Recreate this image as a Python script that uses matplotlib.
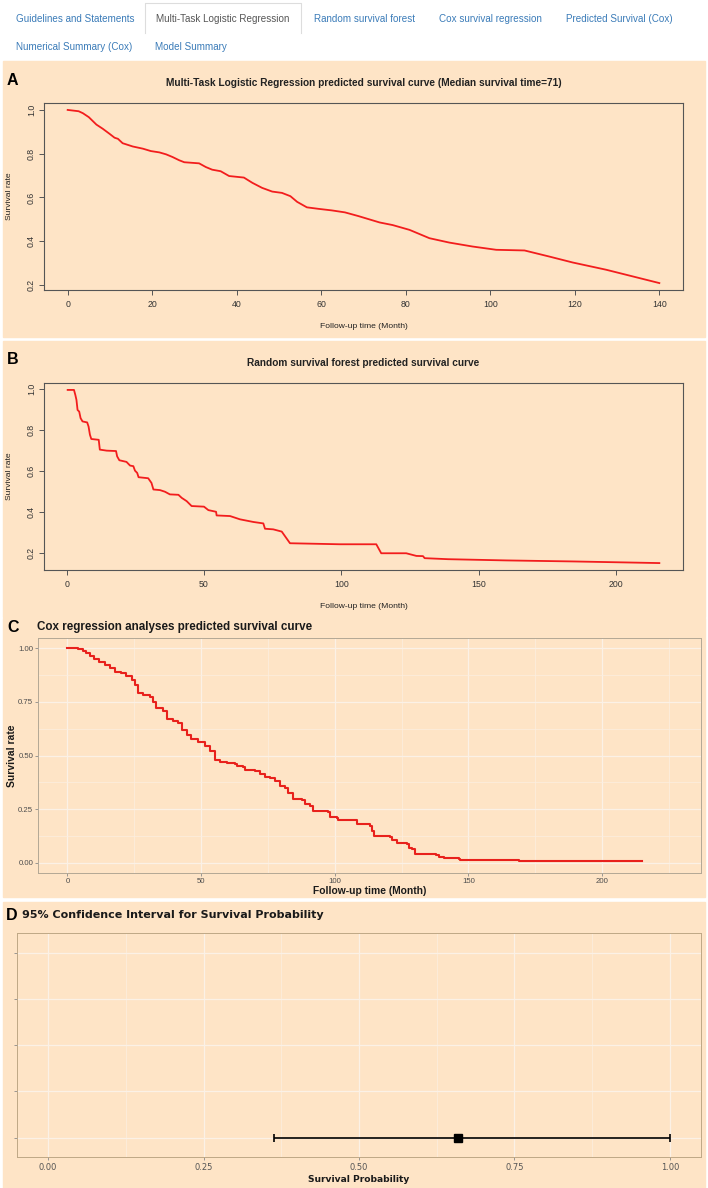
import numpy as np
import matplotlib.pyplot as plt
from matplotlib.patches import Rectangle
from matplotlib.lines import Line2D
from matplotlib.ticker import MultipleLocator

W, H = 708, 1188
BISQUE = '#fee4c6'
RED = '#f21d1d'

# navigation tabs of the web app
tabs_row1 = ["Guidelines and Statements", "Multi-Task Logistic Regression",
             "Random survival forest", "Cox survival regression",
             "Predicted Survival (Cox)"]
tabs_row2 = ["Numerical Summary (Cox)", "Model Summary"]
active_tab = "Multi-Task Logistic Regression"

# A: multi-task logistic regression curve
mtlr_time = [0, 2.6, 3.6, 5.0, 6.8, 8.3, 9.9, 11.1, 11.9, 13.0, 15.4, 17.8, 19.7,
             21.7, 23.3, 24.8, 26.4, 27.6, 31.1, 32.7, 34.2, 36.2, 38.2, 41.7,
             43.7, 46.0, 48.4, 50.7, 52.7, 54.3, 56.6, 59.4, 62.5, 65.6, 68.8,
             73.8, 76.9, 80.9, 85.6, 90.3, 95.8, 101.4, 108.1, 114.0, 119.5,
             127.4, 140.0]
mtlr_surv = [1.0, 0.994, 0.985, 0.967, 0.933, 0.914, 0.891, 0.873, 0.868, 0.848,
             0.833, 0.823, 0.812, 0.806, 0.797, 0.785, 0.770, 0.761, 0.756, 0.739,
             0.727, 0.720, 0.698, 0.691, 0.667, 0.644, 0.627, 0.621, 0.606, 0.580,
             0.555, 0.548, 0.541, 0.532, 0.515, 0.486, 0.474, 0.452, 0.414, 0.394,
             0.376, 0.361, 0.358, 0.330, 0.303, 0.270, 0.209]

# B: random survival forest curve
rsf_time = [0.4, 2.7, 3.2, 3.6, 4.0, 4.6, 5.1, 5.8, 7.5, 8.0, 8.5, 9.0, 11.7, 12.1,
            14.6, 18.0, 18.4, 19.2, 21.8, 23.1, 24.3, 24.9, 25.7, 26.2, 29.7, 30.9,
            31.6, 34.0, 35.8, 37.6, 40.7, 41.9, 43.7, 45.5, 50.0, 51.6, 54.4, 54.6,
            59.5, 63.1, 68.0, 71.6, 72.2, 75.2, 78.3, 81.3, 99.4, 112.7, 114.5,
            123.6, 127.3, 129.7, 130.3, 138.8, 160.0, 184.2, 215.7]
rsf_surv = [0.997, 0.997, 0.972, 0.948, 0.899, 0.891, 0.859, 0.843, 0.838, 0.818,
            0.778, 0.757, 0.753, 0.705, 0.700, 0.698, 0.672, 0.653, 0.645, 0.627,
            0.624, 0.602, 0.591, 0.570, 0.565, 0.542, 0.510, 0.507, 0.499, 0.486,
            0.484, 0.469, 0.453, 0.429, 0.426, 0.409, 0.401, 0.383, 0.380, 0.364,
            0.351, 0.344, 0.318, 0.315, 0.304, 0.247, 0.242, 0.242, 0.198, 0.198,
            0.185, 0.184, 0.174, 0.169, 0.163, 0.158, 0.150]

# C: Cox model step curve (time of drop, survival after drop)
cox_time = [0, 4.0, 6.0, 7.0, 8.5, 10.0, 12.0, 14.0, 16.0, 17.7, 20.2, 22.0, 24.0,
            25.2, 26.5, 28.3, 30.8, 32.0, 33.3, 35.8, 37.1, 39.6, 41.4, 42.7, 44.6,
            46.4, 48.9, 51.4, 53.3, 55.2, 57.1, 59.6, 62.7, 63.3, 65.8, 66.4, 70.2,
            72.0, 73.9, 75.8, 77.7, 79.5, 81.4, 82.6, 84.5, 87.6, 88.9, 90.8, 92.0,
            97.6, 98.3, 100.7, 101.4, 108.2, 113.2, 113.9, 114.5, 120.7, 121.4,
            123.3, 127.0, 127.6, 128.9, 130.2, 137.7, 138.9, 140.7, 146.4, 147.0,
            168.9, 215.0]
cox_surv = [1.0, 0.995, 0.985, 0.977, 0.964, 0.949, 0.933, 0.919, 0.907, 0.891,
            0.884, 0.868, 0.853, 0.829, 0.791, 0.780, 0.771, 0.749, 0.721, 0.705,
            0.670, 0.659, 0.651, 0.620, 0.597, 0.577, 0.563, 0.546, 0.519, 0.478,
            0.468, 0.464, 0.462, 0.450, 0.446, 0.431, 0.426, 0.414, 0.400, 0.395,
            0.380, 0.360, 0.349, 0.326, 0.298, 0.293, 0.274, 0.264, 0.240, 0.236,
            0.216, 0.209, 0.200, 0.183, 0.171, 0.147, 0.124, 0.121, 0.108, 0.093,
            0.090, 0.070, 0.065, 0.042, 0.039, 0.028, 0.022, 0.019, 0.012, 0.008,
            0.008]

# D: 95% CI for the survival probability
ci_level = [1]
ci_est = [0.659]
ci_low = [0.363]
ci_high = [1.0]
ci_levels_shown = [1, 2, 3, 4, 5]


def rect(x0, y0, x1, y1):
    # pixel box -> figure fraction [left, bottom, width, height]
    return [x0 / W, 1 - y1 / H, (x1 - x0) / W, (y1 - y0) / H]


def ftext(x, y, s, **kw):
    fig.text(x / W, 1 - y / H, s, **kw)


def r_lim(v):
    # base R default axis extension (4%)
    lo, hi = min(v), max(v)
    d = (hi - lo) * 0.04
    return lo - d, hi + d


def style_base_r(ax, xt, yt):
    ax.set_facecolor('none')
    for s in ax.spines.values():
        s.set_color('#555555')
        s.set_linewidth(0.8)
    ax.set_xticks(xt)
    ax.set_yticks(yt)
    ax.set_xticklabels([str(v) for v in xt])
    ax.set_yticklabels([f"{v:.1f}" for v in yt])
    ax.tick_params(direction='out', length=3.6, width=0.7, color='#555555',
                   labelsize=6.3, labelcolor='#333333')
    ax.tick_params(axis='x', pad=3.3)
    ax.tick_params(axis='y', pad=2.3, labelrotation=90)
    plt.setp(ax.get_yticklabels(), va='center', family='Liberation Sans')
    plt.setp(ax.get_xticklabels(), family='Liberation Sans')


fig = plt.figure(figsize=(W / 100, H / 100), dpi=100)
fig.patch.set_facecolor('white')

# panel backgrounds
for y0, y1 in [(61, 336.5), (341.5, 616.5), (618, 897), (902, 1188)]:
    fig.add_artist(Rectangle((3 / W, 1 - y1 / H), 702 / W, (y1 - y0) / H,
                             transform=fig.transFigure, color=BISQUE, zorder=0))

# tabs
tab_x1 = [15.8, 156, 314, 439, 566]
tab_x2 = [16, 155]
for lbl, x in zip(tabs_row1, tab_x1):
    ftext(x, 18.5, lbl, fontsize=7.1, family='Liberation Sans', va='center',
          color='#555555' if lbl == active_tab else '#3a7bb8')
for lbl, x in zip(tabs_row2, tab_x2):
    ftext(x, 47, lbl, fontsize=7.1, family='Liberation Sans', va='center',
          color='#3a7bb8')
bx0, bx1, by0, by1 = 145 / W, 301 / W, 1 - 33 / H, 1 - 3 / H
fig.add_artist(Line2D([bx0, bx0, bx1, bx1], [by0, by1, by1, by0],
                      transform=fig.transFigure, color='#dddddd', lw=0.8))

# ---- A
axA = fig.add_axes(rect(44, 103, 683, 290))
axA.plot(mtlr_time, mtlr_surv, color=RED, lw=1.3)
axA.set_xlim(*r_lim(mtlr_time))
axA.set_ylim(*r_lim(mtlr_surv))
style_base_r(axA, [0, 20, 40, 60, 80, 100, 120, 140], [0.2, 0.4, 0.6, 0.8, 1.0])
ftext(7, 80.5, "A", fontsize=11.5, fontweight='bold', family='Liberation Sans', va='center')
ftext(363.5, 83.3, "Multi-Task Logistic Regression predicted survival curve (Median survival time=71)",
      fontsize=7.3, fontweight='bold', family='Liberation Sans', ha='center', va='center', color='#222222')
ftext(9.5, 196.5, "Survival rate", fontsize=6.1, family='Liberation Sans', rotation=90,
      ha='center', va='center', color='#222222')
ftext(363.5, 326, "Follow-up time (Month)", fontsize=6.1, family='Liberation Sans',
      ha='center', va='center', color='#222222')

# ---- B
axB = fig.add_axes(rect(44, 383, 683, 570))
axB.plot(rsf_time, rsf_surv, color=RED, lw=1.3)
axB.set_xlim(*r_lim(rsf_time))
axB.set_ylim(*r_lim(rsf_surv))
style_base_r(axB, [0, 50, 100, 150, 200], [0.2, 0.4, 0.6, 0.8, 1.0])
ftext(7, 360, "B", fontsize=11.5, fontweight='bold', family='Liberation Sans', va='center')
ftext(363.5, 363.3, "Random survival forest predicted survival curve",
      fontsize=7.3, fontweight='bold', family='Liberation Sans', ha='center', va='center', color='#222222')
ftext(9.5, 476.5, "Survival rate", fontsize=6.1, family='Liberation Sans', rotation=90,
      ha='center', va='center', color='#222222')
ftext(363.5, 606, "Follow-up time (Month)", fontsize=6.1, family='Liberation Sans',
      ha='center', va='center', color='#222222')

# ---- C
axC = fig.add_axes(rect(38, 638, 701, 873))
axC.set_facecolor('none')
axC.step(cox_time, cox_surv, where='post', color='#e8211c', lw=1.5, zorder=3)
axC.set_xlim(-11, 237)
axC.set_ylim(-0.047, 1.047)
axC.xaxis.set_major_locator(MultipleLocator(50))
axC.xaxis.set_minor_locator(MultipleLocator(25))
axC.set_yticks([0, 0.25, 0.5, 0.75, 1.0])
axC.set_yticklabels(["0.00", "0.25", "0.50", "0.75", "1.00"])
axC.yaxis.set_minor_locator(MultipleLocator(0.125))
axC.grid(True, which='major', color='#fbf1e6', lw=0.9)
axC.grid(True, which='minor', color='#fcefe0', lw=0.5)
axC.set_axisbelow(True)
for s in axC.spines.values():
    s.set_color('#b3a895')
    s.set_linewidth(0.7)
axC.tick_params(which='major', length=2, width=0.6, color='#8a8a8a', labelsize=5.6,
                labelcolor='#4d4d4d', pad=1.5)
axC.tick_params(which='minor', length=0)
plt.setp(axC.get_xticklabels() + axC.get_yticklabels(), family='Liberation Sans')
ftext(7, 627, "C", fontsize=11.5, fontweight='bold', family='Liberation Sans', va='center')
ftext(36.7, 627.3, "Cox regression analyses predicted survival curve", fontsize=8.4,
      fontweight='bold', family='Liberation Sans', va='center', color='#1a1a1a')
ftext(11.7, 755.5, "Survival rate", fontsize=7.4, fontweight='bold', family='Liberation Sans',
      rotation=90, ha='center', va='center', color='#1a1a1a')
ftext(369.5, 890.5, "Follow-up time (Month)", fontsize=7.4, fontweight='bold',
      family='Liberation Sans', ha='center', va='center', color='#1a1a1a')

# ---- D
axD = fig.add_axes(rect(17, 933, 701, 1157))
axD.set_facecolor('none')
est = np.array(ci_est)
xerr = [est - np.array(ci_low), np.array(ci_high) - est]
axD.errorbar(ci_est, ci_level, xerr=xerr, fmt='s', color='black', ms=5.5,
             capsize=3.2, elinewidth=1.2, capthick=1.2, zorder=3)
axD.set_xlim(-0.05, 1.05)
axD.set_ylim(0.58, 5.43)
axD.set_xticks([0, 0.25, 0.5, 0.75, 1.0])
axD.set_xticklabels(["0.00", "0.25", "0.50", "0.75", "1.00"])
axD.xaxis.set_minor_locator(MultipleLocator(0.125))
axD.set_yticks(ci_levels_shown)
axD.set_yticklabels([])
axD.grid(True, which='major', color='#fbf1e6', lw=0.9)
axD.grid(True, which='minor', axis='x', color='#fcefe0', lw=0.5)
axD.set_axisbelow(True)
for s in axD.spines.values():
    s.set_color('#bfa886')
    s.set_linewidth(0.7)
axD.tick_params(which='major', length=2, width=0.6, color='#8a8a8a', labelsize=6,
                labelcolor='#555555', pad=2)
axD.tick_params(which='minor', length=0)
ftext(6, 915, "D", fontsize=11.5, fontweight='bold', family='Liberation Sans', va='center')
ftext(21.5, 915.5, "95% Confidence Interval for Survival Probability", fontsize=8,
      fontweight='bold', family='DejaVu Sans', va='center', color='#1a1a1a')
ftext(359, 1179.5, "Survival Probability", fontsize=6.6, fontweight='bold',
      family='DejaVu Sans', ha='center', va='center', color='#1a1a1a')

fig.savefig("out.png", dpi=100, facecolor='white')
